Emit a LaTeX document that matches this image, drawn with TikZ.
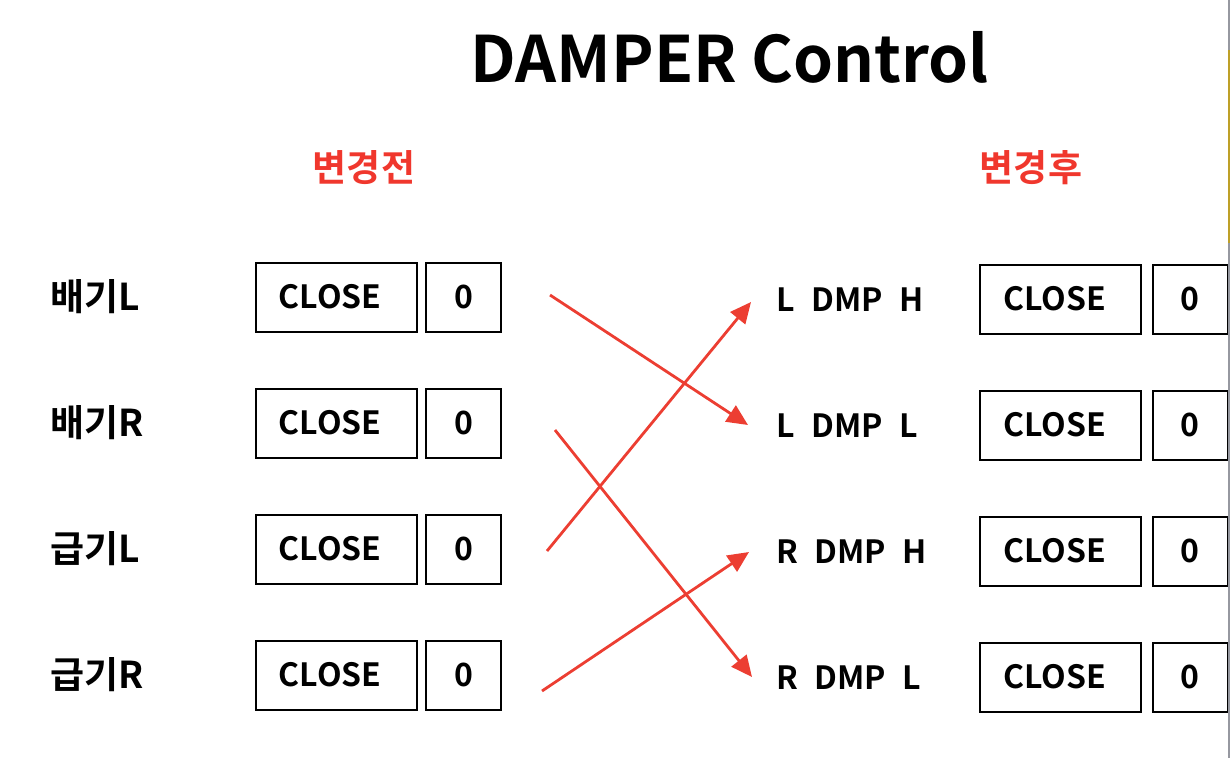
\documentclass[tikz,border=0pt]{standalone}
\usepackage{fontspec}
\setmainfont{Noto Sans CJK KR}[BoldFont={Noto Sans CJK KR Bold}]
\newfontfamily\spacedfont{Noto Sans CJK KR Bold}[WordSpace=2.3]
\usetikzlibrary{arrows.meta,calc}
\definecolor{hdrred}{RGB}{240,55,45}
\definecolor{linkred}{RGB}{236,62,50}
\definecolor{edgegray}{RGB}{150,152,160}
\definecolor{edgeolive}{RGB}{190,160,40}
\begin{document}
\begin{tikzpicture}[x=1pt,y=-1pt,
  lbl/.style={anchor=west, inner sep=0pt, font=\fontsize{37}{42}\selectfont\bfseries},
  dmp/.style={anchor=west, inner sep=0pt, font=\fontsize{32}{38}\selectfont\spacedfont},
  hdr/.style={inner sep=0pt, text=hdrred, font=\fontsize{37}{42}\selectfont\bfseries},
  valbox/.style={draw, line width=2pt, minimum height=69pt, inner sep=0pt,
                 font=\fontsize{32}{36}\selectfont\bfseries},
  wide/.style={valbox, minimum width=161pt, execute at end node=\kern12pt},
  narrow/.style={valbox, minimum width=75pt},
  link/.style={draw=linkred, line width=2.8pt,
               -{Triangle[length=21pt,width=19pt]}}]
\useasboundingbox (0,0) rectangle (1230,758);

% title and column headers
\node[inner sep=0pt, font=\fontsize{64}{72}\selectfont\bfseries] (title) at (730,57) {DAMPER Control};
\node[hdr] (before) at (364,168) {변경전};
\node[hdr] (after) at (1031,168) {변경후};

% left column: labels, state boxes, value boxes
\node[lbl] (l1) at (50,297) {배기L};
\node[lbl] (l2) at (50,423) {배기R};
\node[lbl] (l3) at (50,549) {급기L};
\node[lbl] (l4) at (50,675) {급기R};
\node[wide]   (c1) at (336,297) {CLOSE};
\node[wide]   (c2) at (336,423) {CLOSE};
\node[wide]   (c3) at (336,549) {CLOSE};
\node[wide]   (c4) at (336,675) {CLOSE};
\node[narrow] (a1) at (463.5,297) {0};
\node[narrow] (a2) at (463.5,423) {0};
\node[narrow] (a3) at (463.5,549) {0};
\node[narrow] (a4) at (463.5,675) {0};

% right column: labels, state boxes, value boxes
\node[dmp] (r1) at (776,300) {L DMP H};
\node[dmp] (r2) at (776,426) {L DMP L};
\node[dmp] (r3) at (776,552) {R DMP H};
\node[dmp] (r4) at (776,678) {R DMP L};
\node[wide]   (d1) at (1060.5,299) {CLOSE};
\node[wide]   (d2) at (1060.5,425) {CLOSE};
\node[wide]   (d3) at (1060.5,551) {CLOSE};
\node[wide]   (d4) at (1060.5,677) {CLOSE};
\node[narrow] (b1) at (1190,299) {0};
\node[narrow] (b2) at (1190,425) {0};
\node[narrow] (b3) at (1190,551) {0};
\node[narrow] (b4) at (1190,677) {0};

% mapping arrows
\draw[link] ($(a1.east)+(48,-2)$) -- ($(r2.west)+(-28,-1)$);
\draw[link] ($(a2.east)+(53,7)$)  -- ($(r4.west)+(-24,-1)$);
\draw[link] ($(a3.east)+(45,2)$)  -- ($(r1.west)+(-25,2)$);
\draw[link] ($(a4.east)+(40,16)$) -- ($(r3.west)+(-27,0)$);

% window edge on the right
\draw[edgegray, line width=2pt] (1229,0) -- (1229,758);
\draw[edgeolive, line width=2pt] (1229,50) -- (1229,243);
\end{tikzpicture}
\end{document}
